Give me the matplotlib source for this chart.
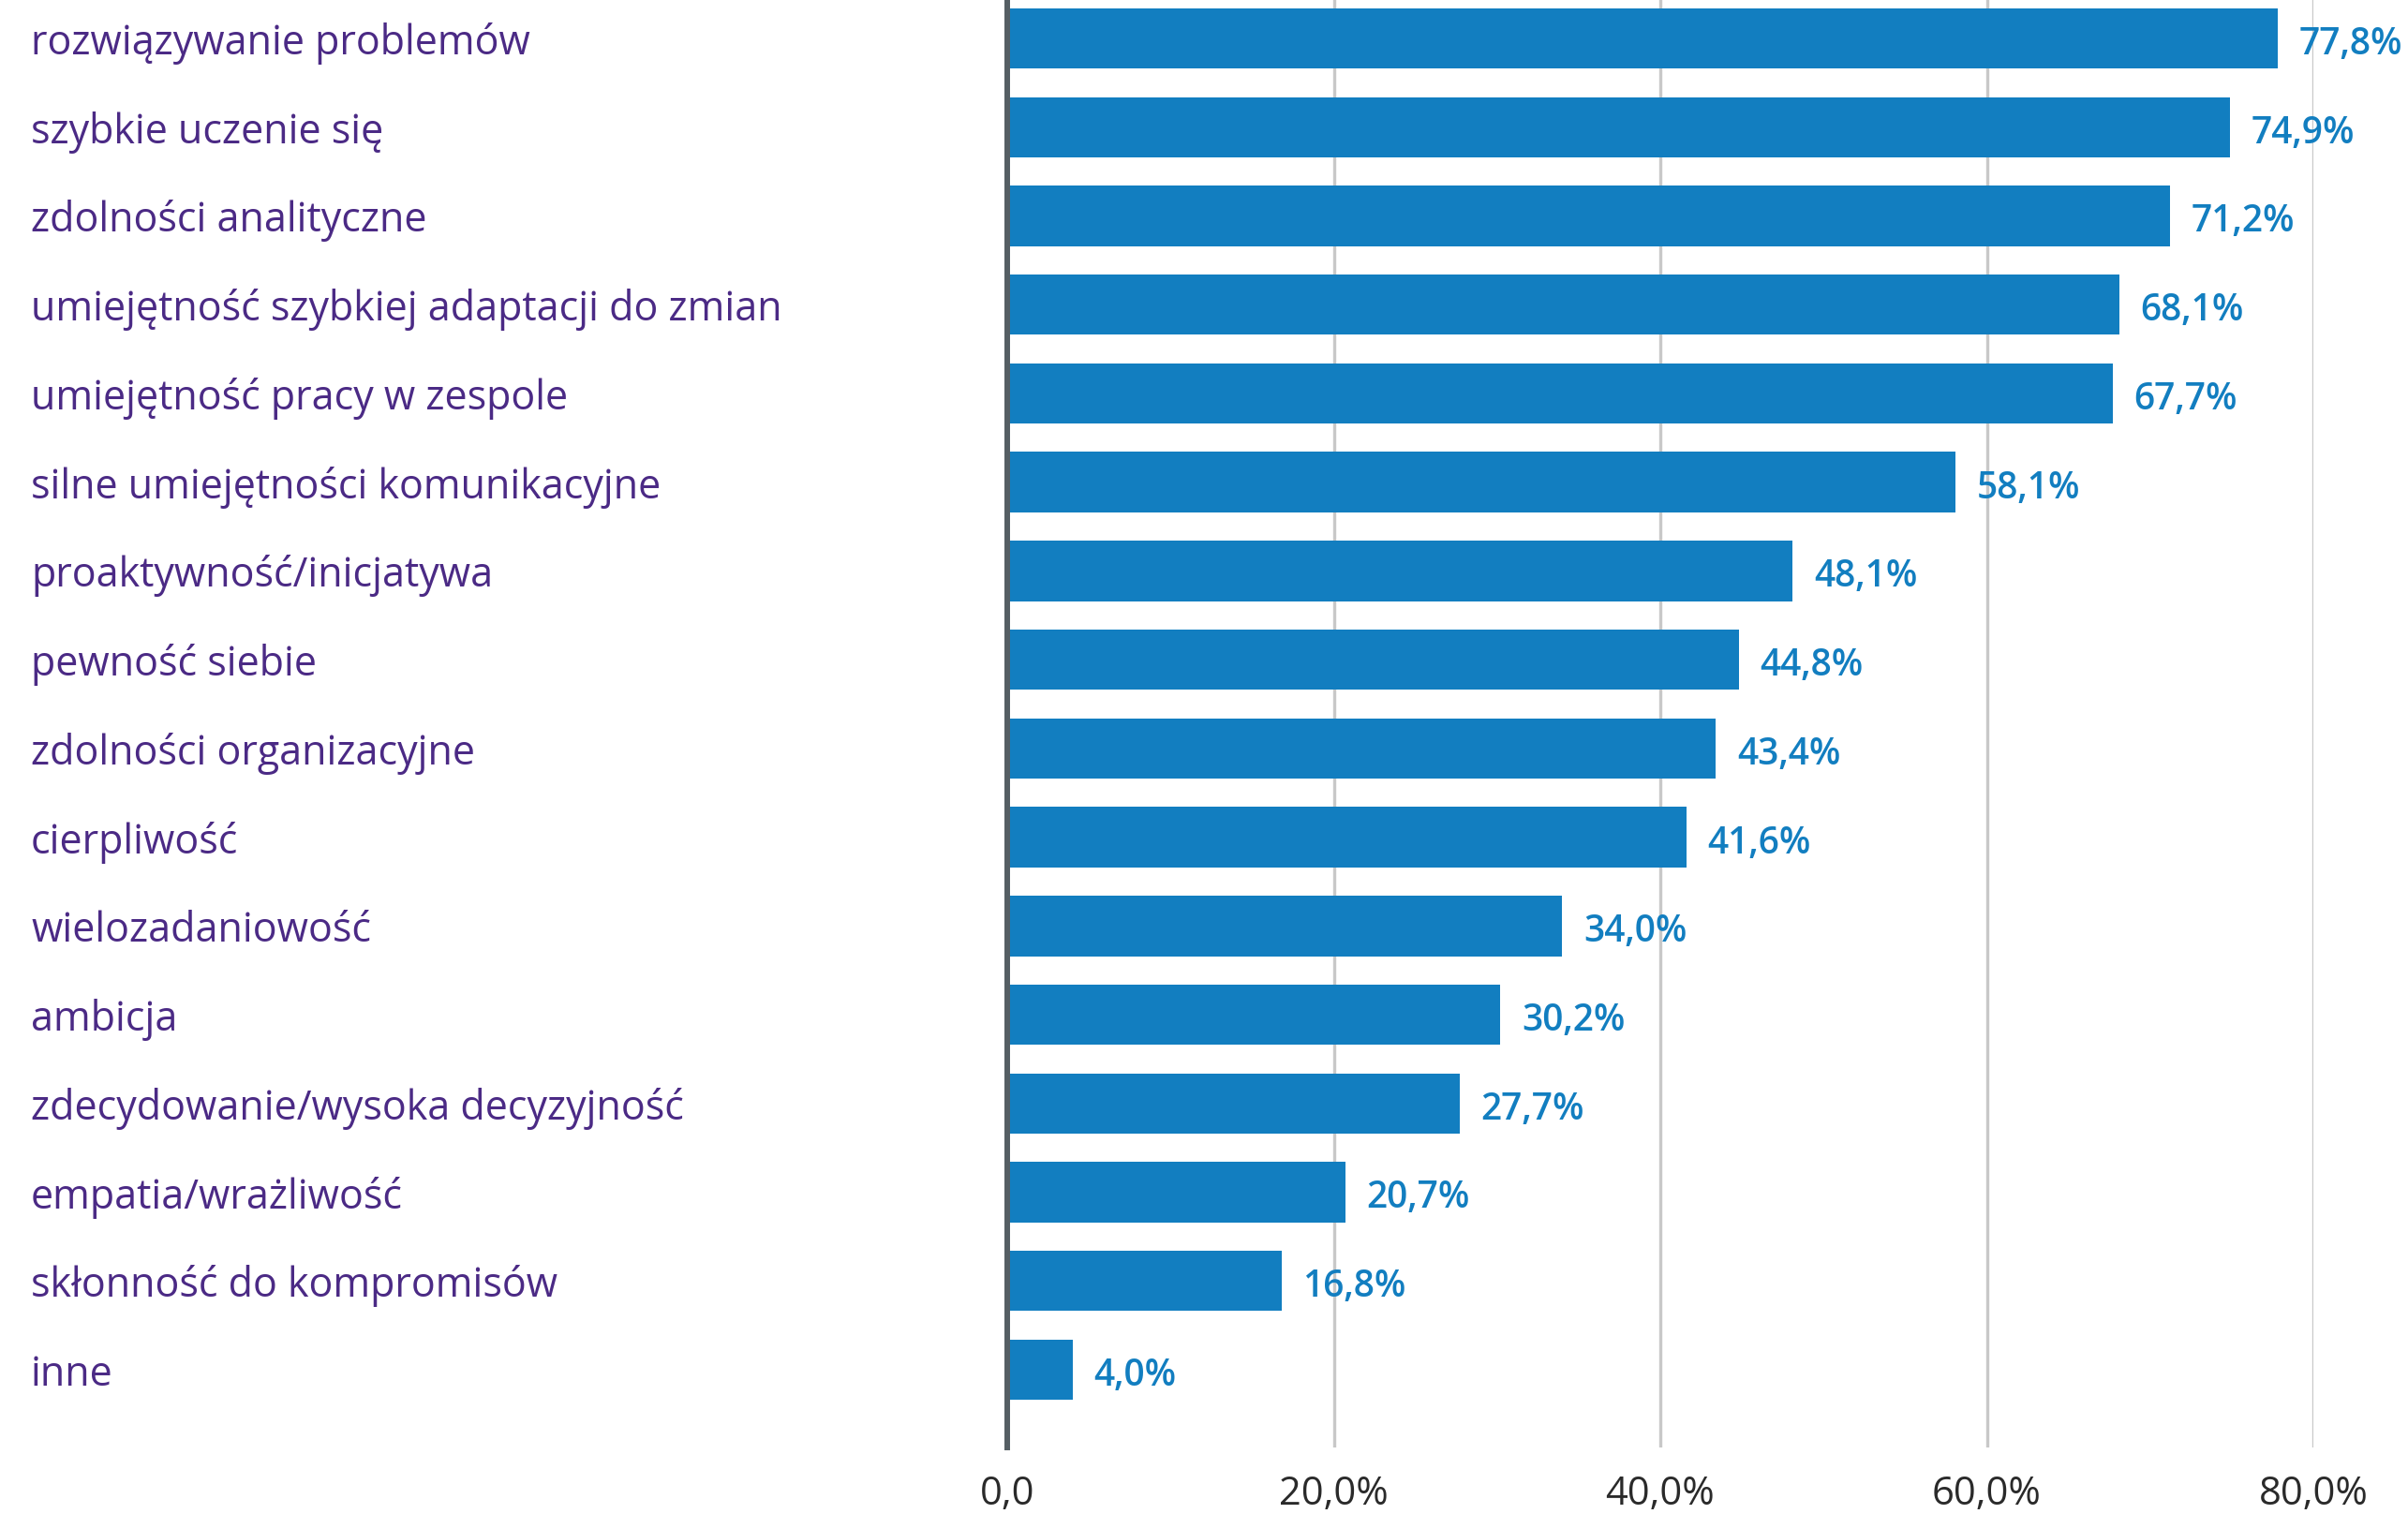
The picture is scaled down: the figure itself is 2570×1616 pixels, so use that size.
import matplotlib
matplotlib.use("Agg")
import matplotlib.pyplot as plt
import matplotlib.transforms as mtransforms
import numpy as np

categories = [
    "rozwiązywanie problemów",
    "szybkie uczenie się",
    "zdolności analityczne",
    "umiejętność szybkiej adaptacji do zmian",
    "umiejętność pracy w zespole",
    "silne umiejętności komunikacyjne",
    "proaktywność/inicjatywa",
    "pewność siebie",
    "zdolności organizacyjne",
    "cierpliwość",
    "wielozadaniowość",
    "ambicja",
    "zdecydowanie/wysoka decyzyjność",
    "empatia/wrażliwość",
    "skłonność do kompromisów",
    "inne",
]
values = [77.8, 74.9, 71.2, 68.1, 67.7, 58.1, 48.1, 44.8, 43.4, 41.6, 34.0, 30.2, 27.7, 20.7, 16.8, 4.0]
x_ticks = [0, 20, 40, 60, 80]
x_tick_labels = ["0,0", "20,0%", "40,0%", "60,0%", "80,0%"]

BLUE = "#127EC0"
PURPLE = "#4B2A85"
plt.rcParams["font.family"] = ["Open Sans", "DejaVu Sans"]

W, H = 2570, 1616
fig = plt.figure(figsize=(W / 100, H / 100), dpi=100)
ax = fig.add_axes([1075 / W, 1 - 1545 / H, (2469 - 1075) / W, 1545 / H])

y = np.arange(len(categories))
ax.barh(y, values, height=0.68, color=BLUE, zorder=3)
ax.set_xlim(0, 80)
ax.set_ylim(len(categories) - 1 + 0.876, -0.433)

ax.set_xticks(x_ticks)
ax.set_xticklabels(x_tick_labels, fontsize=30, color="#2a2a2a")
ax.tick_params(axis="x", length=0, pad=21)
ax.set_yticks([])
ax.grid(axis="x", color="#C8C8C8", linewidth=2.4, zorder=0)
for side in ("top", "right", "bottom"):
    ax.spines[side].set_visible(False)
ax.spines["left"].set_color("#555E63")
ax.spines["left"].set_linewidth(4.3)
ax.spines["left"].set_zorder(4)

for yi, v in zip(y, values):
    ax.text(v + 1.3, yi + 0.02, f"{v:.1f}%".replace(".", ","), color=BLUE,
            fontsize=28, fontweight="semibold", va="center_baseline", ha="left", clip_on=False)

label_tf = mtransforms.blended_transform_factory(fig.transFigure, ax.transData)
for yi, cat in zip(y, categories):
    ax.text(33 / W, yi, cat, transform=label_tf, color=PURPLE, fontsize=31,
            va="center_baseline", ha="left")

fig.savefig("out.png", dpi=100)
